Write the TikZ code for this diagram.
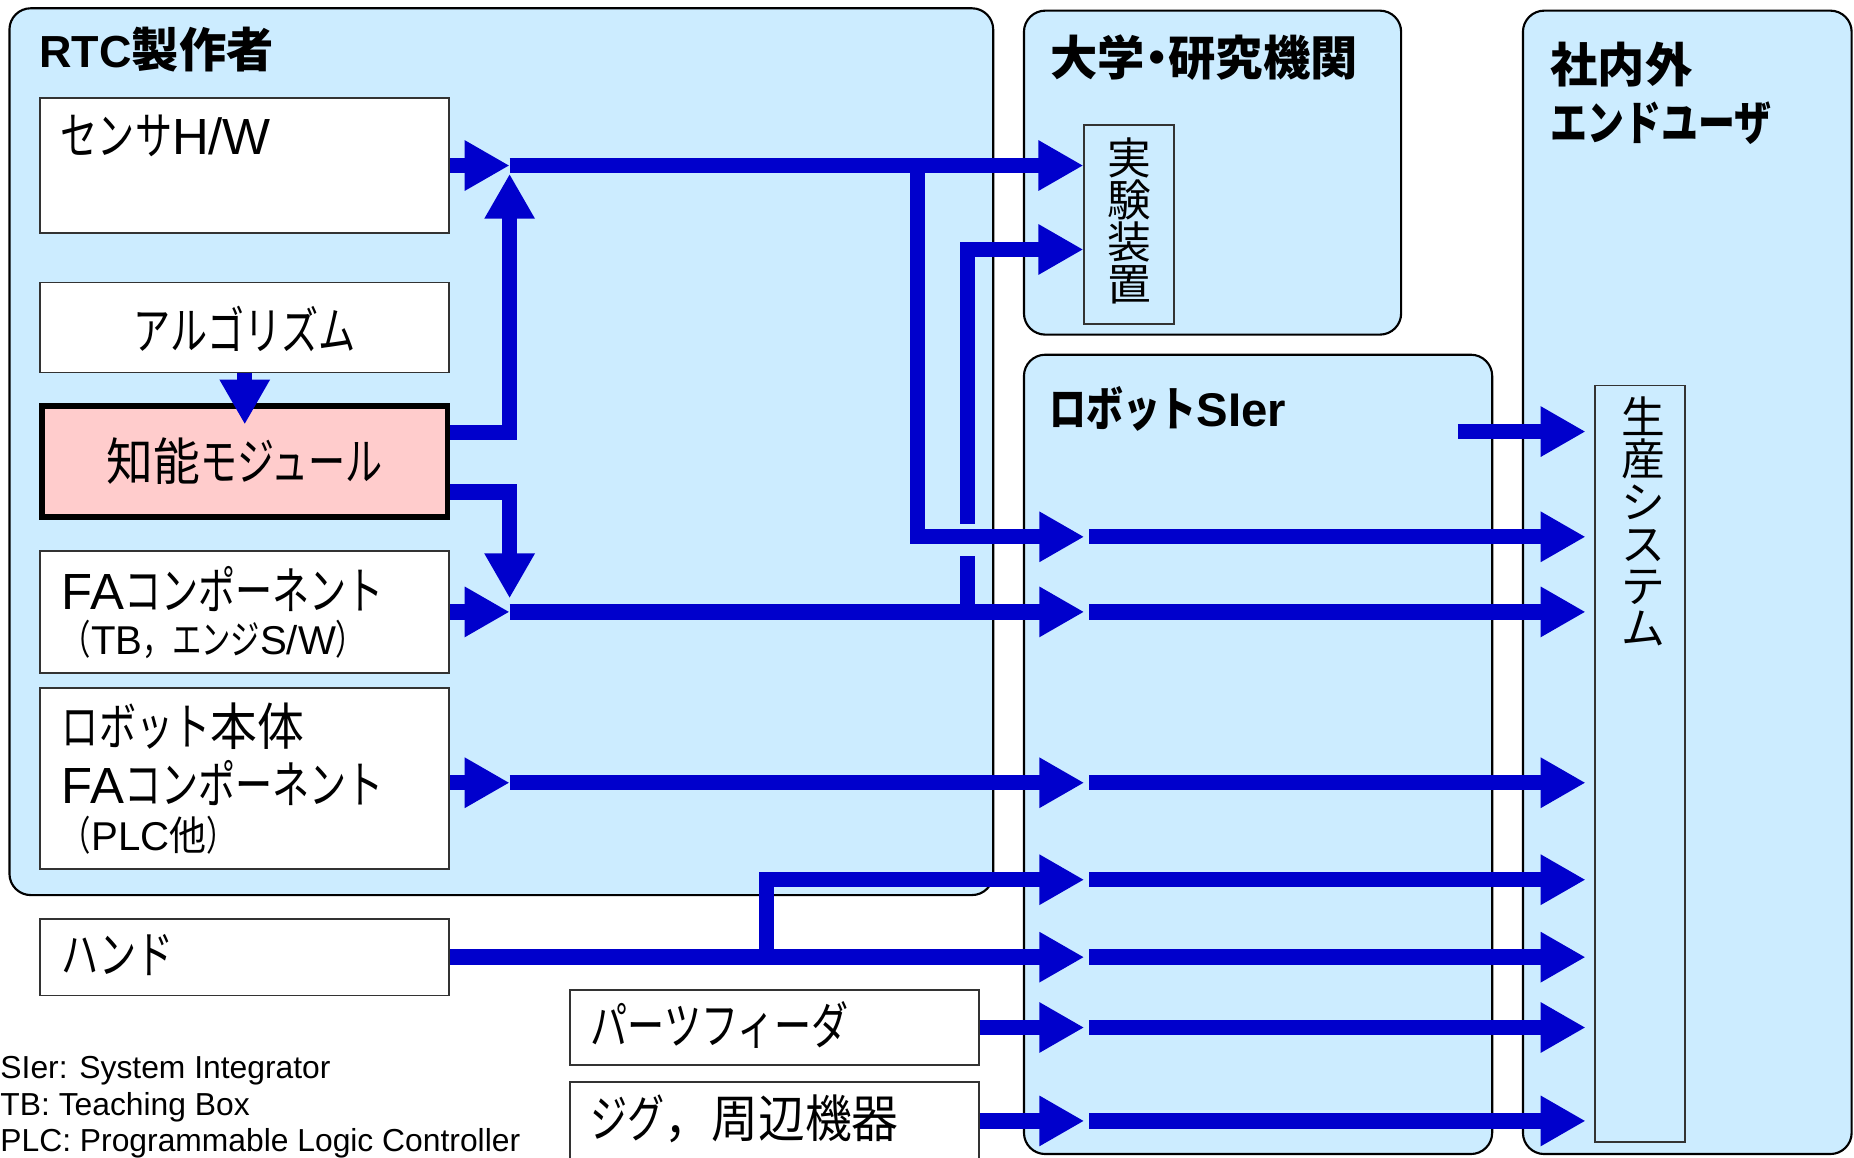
\documentclass[tikz,border=0pt]{standalone}
\usepackage{fontspec}
\setmainfont{Liberation Sans}
\newfontfamily\jpS{Noto Sans CJK JP}[FakeStretch=0.73]
\newfontfamily\jpK{Noto Sans CJK JP}[FakeStretch=0.92]
\newfontfamily\jpT{Noto Sans CJK JP}[FakeStretch=0.78]
\newfontfamily\jpN{Noto Sans CJK JP}
\usetikzlibrary{arrows.meta,fit}
\definecolor{grpblue}{HTML}{CCECFF}
\definecolor{pinkfill}{HTML}{FFCCCC}
\definecolor{arrblue}{HTML}{0000CC}
\newcommand{\jt}[1]{{\jpS #1}}
\newcommand{\jk}[1]{{\jpK #1}}
\newcommand{\jtt}[1]{{\jpT #1}}
\tikzset{
  grp/.style={draw=black, line width=0.9pt, fill=grpblue, rounded corners=9pt, inner sep=0pt},
  wbox/.style={draw=black!80, line width=0.75pt, fill=white, inner sep=0pt},
  vbox/.style={draw=black!80, line width=0.75pt, fill=grpblue, inner sep=0pt},
  txt/.style={inner sep=0pt, font=\fontsize{21.5}{25}\selectfont},
  subtxt/.style={inner sep=0pt, font=\fontsize{17}{20}\selectfont},
  ttl/.style={inner sep=0pt, font=\bfseries\fontsize{20}{24}\selectfont},
  vt/.style={inner sep=0pt, align=center, font=\jpN\fontsize{18.5}{17.8}\selectfont},
  foot/.style={inner sep=0pt, font=\fontsize{13.45}{16}\selectfont},
  arr/.style={draw=arrblue, line width=6.5pt, line join=miter, -{Triangle[length=19pt,width=20pt]}},
  ln/.style={draw=arrblue, line width=6.5pt},
}
\begin{document}
\begin{tikzpicture}[x=0.5pt,y=-0.5pt]
\useasboundingbox (0,0) rectangle (1568,979);
% group boxes
\node[grp, fit={(8,7) (840,757)}] (rtc) {};
\node[grp, fit={(866,9) (1185,283)}] (univ) {};
\node[grp, fit={(866,300) (1262,976)}] (sier) {};
\node[grp, fit={(1288,9) (1566,976)}] (user) {};
% inner boxes
\node[wbox, fit={(34,83) (380,197)}] (sensor) {};
\node[wbox, fit={(34,239) (380,315)}] (algo) {};
\node[wbox, fill=pinkfill, draw=black, line width=2.5pt, fit={(35.5,343) (378.5,437)}] (chino) {};
\node[wbox, fit={(34,466) (380,569)}] (fa) {};
\node[wbox, fit={(34,582) (380,735)}] (robot) {};
\node[wbox, fit={(34,777) (380,842)}] (hand) {};
\node[wbox, fit={(482,837) (828,901)}] (parts) {};
\node[wbox, fit={(482,915) (828,1010)}] (jig) {};
\node[vbox, fit={(917,106) (993,274)}] (jikken) {};
\node[vbox, fit={(1349,326) (1425,966)}] (seisan) {};
% titles
\node[ttl, anchor=west] (trtc) at (33,42) {{\fontsize{19}{24}\selectfont RTC}{\jpN 製作者}};
\node[ttl, anchor=west] (tuniv) at (888,49) {\jpN 大学{\kern-0.25em・\kern-0.25em}研究機関};
\node[ttl, anchor=west] (tuser1) at (1311,55) {\jpN 社内外};
\node[ttl, anchor=west] (tuser2) at (1311,104) {\jtt{エンドユーザ}};
\node[ttl, anchor=west] (tsier) at (887,346) {\jtt{ロボット}SIer};
% box texts
\node[txt, anchor=west] (tsensor) at (51,115) {\jt{センサ}H/W};
\node[txt] (talgo) at (207,278) {\jt{アルゴリズム}};
\node[txt] (tchino) at (207,390) {\jk{知能}\jt{モジュール}};
\node[txt, anchor=west] (tfa1) at (52,498) {FA\jt{コンポーネント}};
\node[subtxt, anchor=west] (tfa2) at (52,541) {\jt{（}TB\jt{，エンジ}S/W\jt{）}};
\node[txt, anchor=west] (trb1) at (52,614) {\jt{ロボット}\jk{本体}};
\node[txt, anchor=west] (trb2) at (52,662) {FA\jt{コンポーネント}};
\node[subtxt, anchor=west] (trb3) at (52,706) {\jt{（}PLC\jk{他}\jt{）}};
\node[txt, anchor=west] (thand) at (52,808) {\jt{ハンド}};
\node[txt, anchor=west] (tparts) at (499,867) {\jt{パーツフィーダ}};
\node[txt, anchor=west] (tjig) at (499,946) {\jt{ジグ}\jk{，周辺機器}};
\node[vt] (tjikken) at (955,187) {実\\験\\装\\置};
\node[vt] (tseisan) at (1390,441) {生\\産\\シ\\ス\\テ\\ム};
% footer
\node[foot, anchor=base west] (f1) at (0,912) {SIer: System Integrator};
\node[foot, anchor=base west] (f2) at (0,943) {TB: Teaching Box};
\node[foot, anchor=base west] (f3) at (0,974) {PLC: Programmable Logic Controller};
% coordinates
\coordinate (j1) at (431,140);
\coordinate (ju) at (431,366);
\coordinate (jut) at (431,147);
\coordinate (jd) at (431,416);
\coordinate (jdt) at (431,506);
\coordinate (j2) at (431,517.5);
\coordinate (j3) at (431,662);
\coordinate (ca) at (207,359);
\coordinate (b1) at (776,140);
\coordinate (b1d) at (776,454);
\coordinate (b2) at (818,517.5);
\coordinate (b2g1) at (818,470);
\coordinate (b2g2) at (818,443);
\coordinate (b2u) at (818,211);
\coordinate (h1) at (648,809.5);
\coordinate (h1u) at (648,744);
\coordinate (sx) at (917,0);
\coordinate (sy) at (921,0);
\coordinate (sz) at (1341,0);
\coordinate (s0) at (1233,365);
\coordinate (rA) at (0,454);
\coordinate (rB) at (0,517.5);
\coordinate (rC) at (0,662);
\coordinate (rD) at (0,744);
\coordinate (rE) at (0,809.5);
\coordinate (rF) at (0,869);
\coordinate (rG) at (0,948);
% connectors
\draw[arr] (sensor.east) -- (j1);
\draw[arr] (j1) -- (jikken.west |- j1);
\draw[arr] (b1) -- (b1d) -- (sx |- b1d);
\draw[arr] (algo.south) -- (ca);
\draw[arr] (chino.east |- ju) -- (ju) -- (jut);
\draw[arr] (chino.east |- jd) -- (jd) -- (jdt);
\draw[arr] (fa.east) -- (j2);
\draw[arr] (j2) -- (sx |- j2);
\draw[ln] (b2) -- (b2g1);
\draw[arr] (b2g2) -- (b2u) -- (jikken.west |- b2u);
\draw[arr] (robot.east |- j3) -- (j3);
\draw[arr] (j3) -- (sx |- j3);
\draw[arr] (hand.east) -- (sx |- hand.east);
\draw[arr] (h1) -- (h1u) -- (sx |- h1u);
\draw[arr] (parts.east) -- (sx |- parts.east);
\draw[arr] (jig.east |- rG) -- (sx |- rG);
\draw[arr] (s0) -- (sz |- s0);
\foreach \r in {rA,rB,rC,rD,rE,rF,rG}{
  \draw[arr] (sy |- \r) -- (sz |- \r);
}
\end{tikzpicture}
\end{document}
